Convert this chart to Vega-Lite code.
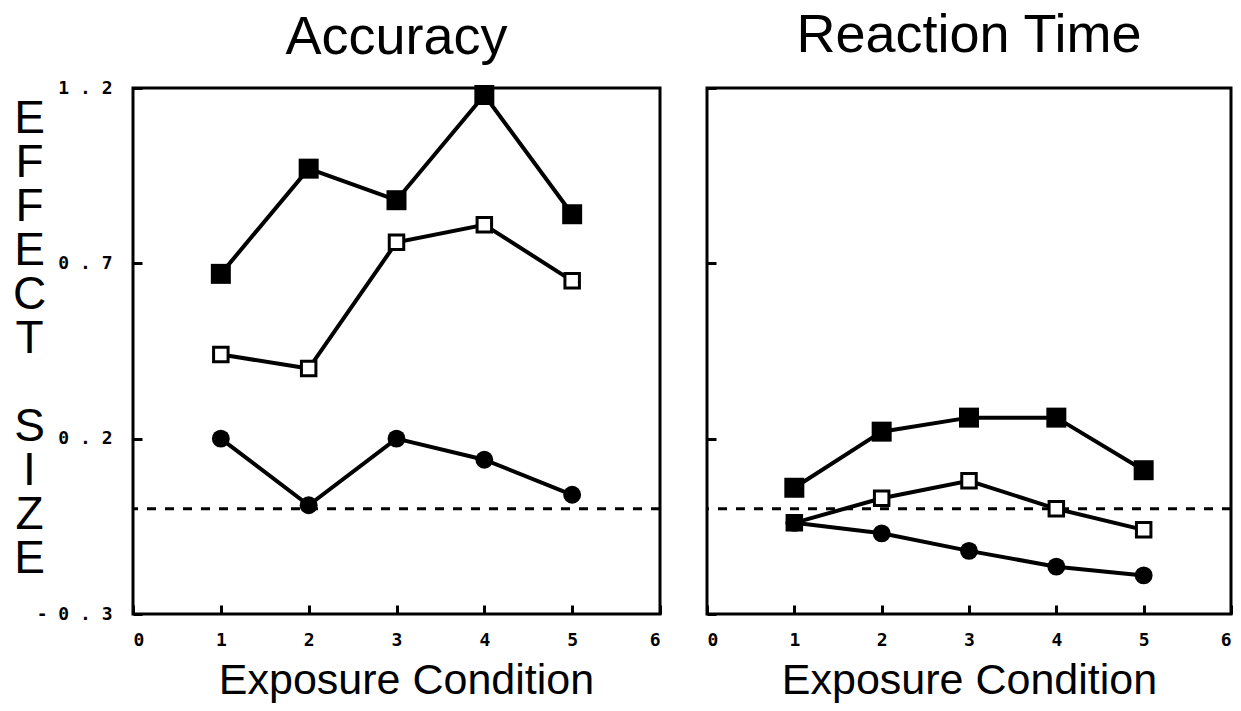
{
  "$schema": "https://vega.github.io/schema/vega-lite/v6.json",
  "padding": {"left": 10, "top": 7, "right": 0, "bottom": 0},
  "background": "white",
  "spacing": 41,
  "config": {
    "view": {"stroke": "black", "strokeWidth": 3},
    "title": {"font": "Liberation Sans", "fontSize": 54, "fontWeight": "normal", "color": "black", "anchor": "middle", "baseline": "alphabetic", "frame": "group"},
    "axis": {
      "domain": false,
      "grid": false,
      "tickColor": "black",
      "tickWidth": 3,
      "tickSize": -9,
      "labelFont": "DejaVu Sans Mono",
      "labelFontWeight": "bold",
      "labelFontSize": 18,
      "labelColor": "black",
      "titleFont": "Liberation Sans",
      "titleFontWeight": "normal",
      "titleColor": "black"
    }
  },
  "datasets": {
    "d": [
      {"panel": "Accuracy", "cond": 1, "series": "filled square", "value": 0.67},
      {"panel": "Accuracy", "cond": 2, "series": "filled square", "value": 0.97},
      {"panel": "Accuracy", "cond": 3, "series": "filled square", "value": 0.88},
      {"panel": "Accuracy", "cond": 4, "series": "filled square", "value": 1.18},
      {"panel": "Accuracy", "cond": 5, "series": "filled square", "value": 0.84},
      {"panel": "Accuracy", "cond": 1, "series": "open square", "value": 0.44},
      {"panel": "Accuracy", "cond": 2, "series": "open square", "value": 0.40},
      {"panel": "Accuracy", "cond": 3, "series": "open square", "value": 0.76},
      {"panel": "Accuracy", "cond": 4, "series": "open square", "value": 0.81},
      {"panel": "Accuracy", "cond": 5, "series": "open square", "value": 0.65},
      {"panel": "Accuracy", "cond": 1, "series": "circle", "value": 0.20},
      {"panel": "Accuracy", "cond": 2, "series": "circle", "value": 0.01},
      {"panel": "Accuracy", "cond": 3, "series": "circle", "value": 0.20},
      {"panel": "Accuracy", "cond": 4, "series": "circle", "value": 0.14},
      {"panel": "Accuracy", "cond": 5, "series": "circle", "value": 0.04},
      {"panel": "Reaction Time", "cond": 1, "series": "filled square", "value": 0.06},
      {"panel": "Reaction Time", "cond": 2, "series": "filled square", "value": 0.22},
      {"panel": "Reaction Time", "cond": 3, "series": "filled square", "value": 0.26},
      {"panel": "Reaction Time", "cond": 4, "series": "filled square", "value": 0.26},
      {"panel": "Reaction Time", "cond": 5, "series": "filled square", "value": 0.11},
      {"panel": "Reaction Time", "cond": 1, "series": "open square", "value": -0.04},
      {"panel": "Reaction Time", "cond": 2, "series": "open square", "value": 0.03},
      {"panel": "Reaction Time", "cond": 3, "series": "open square", "value": 0.08},
      {"panel": "Reaction Time", "cond": 4, "series": "open square", "value": 0.00},
      {"panel": "Reaction Time", "cond": 5, "series": "open square", "value": -0.06},
      {"panel": "Reaction Time", "cond": 1, "series": "circle", "value": -0.04},
      {"panel": "Reaction Time", "cond": 2, "series": "circle", "value": -0.07},
      {"panel": "Reaction Time", "cond": 3, "series": "circle", "value": -0.12},
      {"panel": "Reaction Time", "cond": 4, "series": "circle", "value": -0.165},
      {"panel": "Reaction Time", "cond": 5, "series": "circle", "value": -0.19}
    ],
    "zero": [{"y": 0}]
  },
  "hconcat": [
    {
      "title": {"text": "Accuracy", "offset": 14},
      "width": 527,
      "height": 526,
      "data": {"name": "d"},
      "transform": [{"filter": "datum.panel === 'Accuracy'"}],
      "encoding": {
        "x": {"field": "cond", "type": "quantitative", "scale": {"domain": [0, 6], "nice": false},
          "axis": {"values": [0, 1, 2, 3, 4, 5, 6], "format": "d", "labelPadding": 26, "title": "Exposure Condition", "titleFontSize": 43, "titlePadding": 10, "titleX": 273}},
        "y": {"field": "value", "type": "quantitative", "scale": {"domain": [-0.3, 1.2], "nice": false, "zero": false},
          "axis": {"values": [-0.3, 0.2, 0.7, 1.2], "labelExpr": "join(split(replace(format(datum.value, '.1f'), '\u2212', '-'), ''), ' ')", "labelPadding": 30,
            "title": ["E", "F", "F", "E", "C", "T", "\u2800", "S", "I", "Z", "E"], "titleAngle": 0, "titleFontSize": 46, "titleLineHeight": 44, "titleAlign": "center", "titleBaseline": "middle", "titleX": -104, "titleY": 30}}
      },
      "layer": [
        {"data": {"name": "zero"}, "mark": {"type": "rule", "strokeDash": [9, 9], "strokeWidth": 3, "color": "black"}, "encoding": {"x": null, "y": {"field": "y", "type": "quantitative"}}},
        {"mark": {"type": "line", "color": "black", "strokeWidth": 4}, "encoding": {"detail": {"field": "series"}}},
        {"transform": [{"filter": "datum.series === 'filled square'"}], "mark": {"type": "point", "shape": "square", "filled": true, "color": "black", "size": 400, "opacity": 1}},
        {"transform": [{"filter": "datum.series === 'open square'"}], "mark": {"type": "point", "shape": "square", "filled": true, "fill": "white", "stroke": "black", "strokeWidth": 3, "size": 210, "opacity": 1}},
        {"transform": [{"filter": "datum.series === 'circle'"}], "mark": {"type": "point", "shape": "circle", "filled": true, "color": "black", "size": 320, "opacity": 1}}
      ]
    },
    {
      "title": {"text": "Reaction Time", "offset": 24},
      "width": 524,
      "height": 526,
      "data": {"name": "d"},
      "transform": [{"filter": "datum.panel === 'Reaction Time'"}],
      "encoding": {
        "x": {"field": "cond", "type": "quantitative", "scale": {"domain": [0, 6], "nice": false},
          "axis": {"values": [0, 1, 2, 3, 4, 5, 6], "format": "d", "labelPadding": 26, "title": "Exposure Condition", "titleFontSize": 43, "titlePadding": 10}},
        "y": {"field": "value", "type": "quantitative", "scale": {"domain": [-0.3, 1.2], "nice": false, "zero": false},
          "axis": {"values": [-0.3, 0.2, 0.7, 1.2], "labels": false, "title": null}}
      },
      "layer": [
        {"data": {"name": "zero"}, "mark": {"type": "rule", "strokeDash": [9, 9], "strokeWidth": 3, "color": "black"}, "encoding": {"x": null, "y": {"field": "y", "type": "quantitative"}}},
        {"mark": {"type": "line", "color": "black", "strokeWidth": 4}, "encoding": {"detail": {"field": "series"}}},
        {"transform": [{"filter": "datum.series === 'filled square'"}], "mark": {"type": "point", "shape": "square", "filled": true, "color": "black", "size": 400, "opacity": 1}},
        {"transform": [{"filter": "datum.series === 'open square'"}], "mark": {"type": "point", "shape": "square", "filled": true, "fill": "white", "stroke": "black", "strokeWidth": 3, "size": 210, "opacity": 1}},
        {"transform": [{"filter": "datum.series === 'circle'"}], "mark": {"type": "point", "shape": "circle", "filled": true, "color": "black", "size": 320, "opacity": 1}}
      ]
    }
  ]
}
